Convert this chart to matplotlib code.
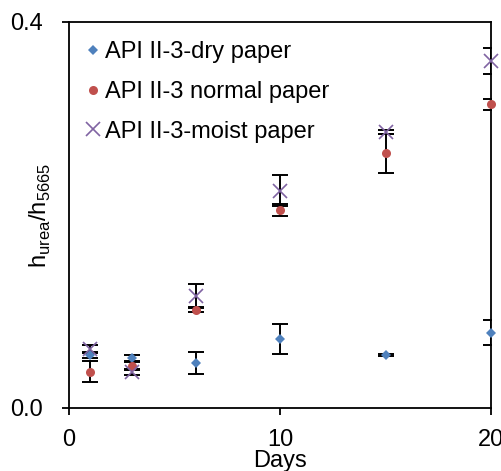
import matplotlib
matplotlib.use("Agg")
import matplotlib.pyplot as plt

plt.rcParams['font.family'] = ['Liberation Sans', 'DejaVu Sans']

days = [1, 3, 6, 10, 15, 20]
dry = [0.0546, 0.0515, 0.0463, 0.0712, 0.0549, 0.0780]
dry_err = [0.003, 0.003, 0.0115, 0.0155, 0.001, 0.0130]
normal = [0.0376, 0.0438, 0.1016, 0.2052, 0.2639, 0.3147]
normal_err = [0.0110, 0.004, 0.002, 0.0062, 0.0200, 0.0060]
moist = [0.0610, 0.0376, 0.1164, 0.2252, 0.2863, 0.3600]
moist_err = [0.004, 0.003, 0.0118, 0.0160, 0.002, 0.0135]

labels = ['API II-3-dry paper', 'API II-3 normal paper', 'API II-3-moist paper']
colors = ['#4F81BD', '#C0504D', '#8064A2']
markers = ['D', 'o', 'x']
msizes = [5.5, 6.5, 10]

fig = plt.figure(figsize=(5.02, 4.71), dpi=100)
ax = fig.add_axes([0.1375, 0.1338, 0.8406, 0.8195])

series = [(dry, dry_err), (normal, normal_err), (moist, moist_err)]
for (vals, errs) in series:
    ax.errorbar(days, vals, yerr=errs, fmt='none', ecolor='black',
                elinewidth=1.4, capsize=5.5, capthick=1.4, zorder=2)
for (vals, errs), lab, c, m, ms in zip(series, labels, colors, markers, msizes):
    ax.plot(days, vals, linestyle='none', marker=m, color=c, markersize=ms,
            markeredgewidth=1.2 if m == 'x' else 0, label=lab, clip_on=False, zorder=3)

ax.set_xlim(0, 20)
ax.set_ylim(0, 0.4)
ax.set_xticks([0, 10, 20])
ax.set_yticks([0.0, 0.4])
ax.set_yticklabels(['0.0', '0.4'])
for s in ax.spines.values():
    s.set_linewidth(1.3)
    s.set_color('black')
ax.tick_params(axis='both', direction='out', length=5, width=1.3, labelsize=17)
ax.tick_params(axis='y', pad=14)
ax.tick_params(axis='x', pad=10)

ax.set_xlabel('Days', fontsize=17)
ax.xaxis.set_label_coords(0.5, -0.108)
ax.xaxis.label.set_va('top')
ax.set_ylabel(r'h$_{\mathregular{urea}}$/h$_{\mathregular{5665}}$', fontsize=17)
ax.yaxis.set_label_coords(-0.038, 0.5)

ax.legend(loc='upper left', frameon=False, fontsize=17, handlelength=0.5,
          handletextpad=0.25, labelspacing=0.75, borderaxespad=0.0,
          bbox_to_anchor=(0.02, 0.975))

fig.savefig('out.png', dpi=100)
